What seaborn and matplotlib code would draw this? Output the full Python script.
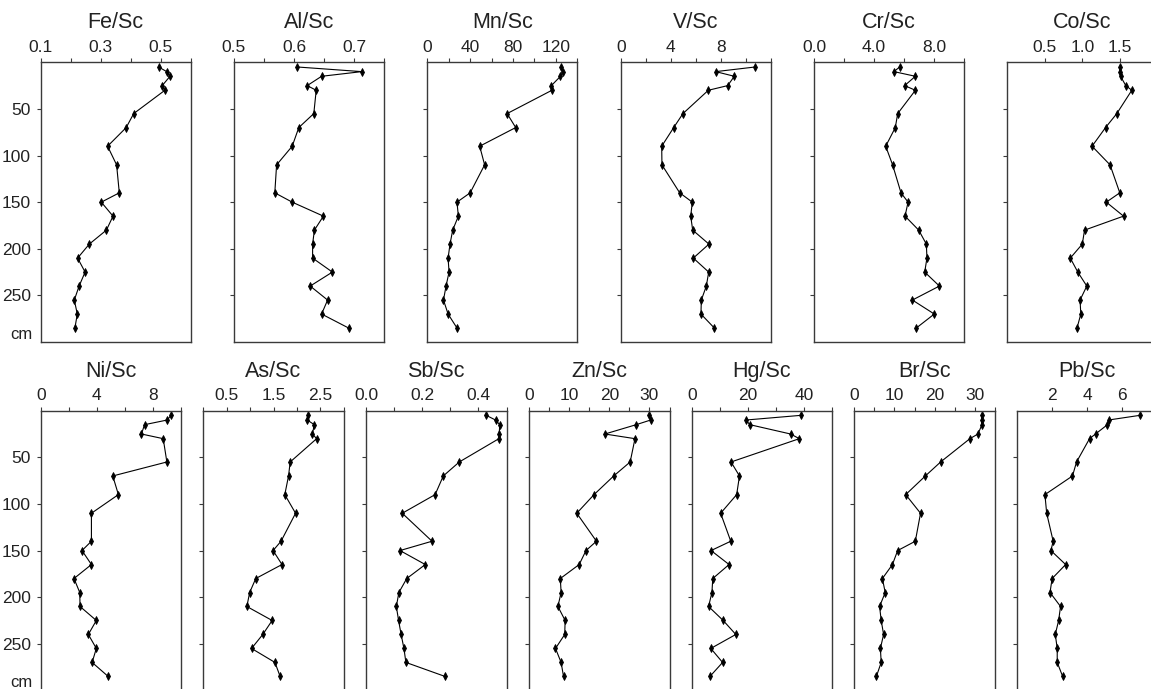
import matplotlib
matplotlib.use("Agg")
import matplotlib.pyplot as plt
import seaborn as sns
import pandas as pd

# profundidade das amostras (cm)
depth = [5, 10, 15, 25, 30, 55, 70, 90, 110, 140, 150, 165, 180, 195, 210, 225, 240, 255, 270, 285]

# razoes normalizadas pelo Sc
fe_sc = [0.493, 0.52, 0.531, 0.505, 0.514, 0.41, 0.385, 0.323, 0.353, 0.362,
         0.302, 0.341, 0.319, 0.262, 0.223, 0.248, 0.228, 0.212, 0.222, 0.214]
al_sc = [0.605, 0.713, 0.646, 0.622, 0.637, 0.633, 0.608, 0.597, 0.571, 0.568,
         0.597, 0.649, 0.634, 0.631, 0.631, 0.664, 0.627, 0.656, 0.646, 0.691]
mn_sc = [125, 126.5, 124.3, 115.8, 116.3, 74.5, 82.5, 48.9, 53.5, 40,
         27.7, 29, 23.7, 21.2, 19.4, 20.3, 17.5, 15.1, 19.4, 27.7]
v_sc = [10.77, 7.6, 9.09, 8.56, 7.01, 4.98, 4.24, 3.28, 3.3, 4.72,
        5.73, 5.6, 5.76, 7.06, 5.81, 7.04, 6.85, 6.45, 6.42, 7.49]
cr_sc = [5.71, 5.33, 6.76, 6.04, 6.76, 5.58, 5.42, 4.78, 5.24, 5.8,
         6.27, 6.07, 6.98, 7.49, 7.53, 7.38, 8.36, 6.56, 8.02, 6.82]
co_sc = [1.50, 1.50, 1.51, 1.58, 1.66, 1.46, 1.31, 1.13, 1.37, 1.50,
         1.32, 1.55, 1.03, 1.00, 0.84, 0.94, 1.06, 0.97, 0.98, 0.93]
ni_sc = [9.27, 9.0, 7.39, 7.17, 8.72, 8.98, 5.13, 5.53, 3.61, 3.61,
         2.94, 3.61, 2.37, 2.78, 2.8, 3.96, 3.39, 3.96, 3.66, 4.8]
as_sc = [2.23, 2.22, 2.37, 2.33, 2.42, 1.855, 1.82, 1.74, 1.97, 1.66,
         1.49, 1.68, 1.12, 0.99, 0.93, 1.47, 1.27, 1.03, 1.53, 1.64]
sb_sc = [0.428, 0.461, 0.476, 0.474, 0.473, 0.332, 0.275, 0.246, 0.129, 0.235,
         0.121, 0.211, 0.145, 0.117, 0.108, 0.116, 0.125, 0.135, 0.142, 0.281]
zn_sc = [29.9, 30.3, 26.7, 18.9, 26.4, 25.2, 21.1, 16.2, 11.9, 16.8,
         14.2, 12.5, 7.8, 8.0, 7.2, 9.0, 8.9, 6.6, 8.0, 8.6]
hg_sc = [38.8, 19.3, 20.7, 35.2, 38.3, 14.0, 17.0, 16.0, 10.3, 13.9,
         6.9, 13.3, 7.5, 7.2, 6.0, 11.2, 15.7, 6.8, 11.0, 6.5]
br_sc = [31.7, 31.7, 31.8, 30.8, 28.8, 21.5, 17.7, 12.8, 16.5, 15.2,
         10.8, 9.5, 7.0, 7.7, 6.3, 6.7, 7.3, 6.5, 6.7, 5.5]
pb_sc = [6.99, 5.21, 5.15, 4.47, 4.13, 3.39, 3.16, 1.59, 1.69, 2.06,
         1.93, 2.77, 2.0, 1.88, 2.48, 2.37, 2.18, 2.29, 2.29, 2.6]

# titulos e eixos
top_names = ['Fe/Sc', 'Al/Sc', 'Mn/Sc', 'V/Sc', 'Cr/Sc', 'Co/Sc']
bottom_names = ['Ni/Sc', 'As/Sc', 'Sb/Sc', 'Zn/Sc', 'Hg/Sc', 'Br/Sc', 'Pb/Sc']
top_series = [fe_sc, al_sc, mn_sc, v_sc, cr_sc, co_sc]
bottom_series = [ni_sc, as_sc, sb_sc, zn_sc, hg_sc, br_sc, pb_sc]

x_ranges = {
    'Fe/Sc': (0.1, 0.6), 'Al/Sc': (0.5, 0.75), 'Mn/Sc': (0, 140), 'V/Sc': (0, 12),
    'Cr/Sc': (0, 10), 'Co/Sc': (0, 2), 'Ni/Sc': (0, 10), 'As/Sc': (0, 3),
    'Sb/Sc': (0, 0.5), 'Zn/Sc': (0, 35), 'Hg/Sc': (0, 50), 'Br/Sc': (0, 35), 'Pb/Sc': (0, 8),
}
x_ticks = {
    'Fe/Sc': [0.1, 0.2, 0.3, 0.4, 0.5, 0.6], 'Al/Sc': [0.5, 0.55, 0.6, 0.65, 0.7, 0.75],
    'Mn/Sc': [0, 20, 40, 60, 80, 100, 120, 140], 'V/Sc': [0, 2, 4, 6, 8, 10, 12],
    'Cr/Sc': [0, 2, 4, 6, 8, 10], 'Co/Sc': [0.5, 1.0, 1.5],
    'Ni/Sc': [0, 2, 4, 6, 8, 10], 'As/Sc': [0, 0.5, 1.0, 1.5, 2.0, 2.5, 3.0],
    'Sb/Sc': [0, 0.1, 0.2, 0.3, 0.4, 0.5], 'Zn/Sc': [0, 5, 10, 15, 20, 25, 30, 35],
    'Hg/Sc': [0, 10, 20, 30, 40, 50], 'Br/Sc': [0, 5, 10, 15, 20, 25, 30, 35],
    'Pb/Sc': [2, 4, 6],
}
x_labels = {
    'Fe/Sc': ['0.1', '', '0.3', '', '0.5', ''], 'Al/Sc': ['0.5', '', '0.6', '', '0.7', ''],
    'Mn/Sc': ['0', '', '40', '', '80', '', '120', ''], 'V/Sc': ['0', '', '4', '', '8', '', ''],
    'Cr/Sc': ['0.0', '', '4.0', '', '8.0', ''], 'Co/Sc': ['0.5', '1.0', '1.5'],
    'Ni/Sc': ['0', '', '4', '', '8', ''], 'As/Sc': ['', '0.5', '', '1.5', '', '2.5', ''],
    'Sb/Sc': ['0.0', '', '0.2', '', '0.4', ''], 'Zn/Sc': ['0', '', '10', '', '20', '', '30', ''],
    'Hg/Sc': ['0', '', '20', '', '40', ''], 'Br/Sc': ['0', '', '10', '', '20', '', '30', ''],
    'Pb/Sc': ['2', '4', '6'],
}
depth_ticks = [50, 100, 150, 200, 250]

sns.set_theme(style='ticks')
plt.rcParams['font.family'] = ['Liberation Sans', 'DejaVu Sans']

W, H = 1151, 689
fig = plt.figure(figsize=(W / 100, H / 100), dpi=100)
edge = '#3a3a3a'


def make_panel(left, top, width, name, values, first):
    height = 279.7
    ax = fig.add_axes([left / W, (H - top - height) / H, width / W, height / H])
    df = pd.DataFrame({'valor': values, 'prof': depth})
    sns.lineplot(data=df, x='valor', y='prof', sort=False, estimator=None,
                 color='black', linewidth=0.8, marker='d', markersize=4.2,
                 markeredgecolor='black', markeredgewidth=0.6, ax=ax)
    ax.set_xlim(*x_ranges[name])
    ax.set_ylim(300, 0)
    ax.xaxis.tick_top()
    ax.set_xticks(x_ticks[name])
    ax.set_xticklabels(x_labels[name])
    ax.set_yticks(depth_ticks)
    if first:
        ax.set_yticklabels([str(t) for t in depth_ticks])
        ax.text(-0.055, 292, 'cm', transform=ax.get_yaxis_transform(),
                ha='right', va='center', fontsize=12, color='#222222')
    else:
        ax.set_yticklabels([])
    ax.set_xlabel('')
    ax.set_ylabel('')
    ax.tick_params(axis='both', length=3, width=0.8, color=edge, labelsize=12.5,
                   labelcolor='#222222', pad=2.5)
    ax.tick_params(axis='y', pad=4)
    for s in ax.spines.values():
        s.set_visible(True)
        s.set_color(edge)
        s.set_linewidth(1.0)
    ax.annotate(name, xy=(0.5, 1.0), xycoords='axes fraction', xytext=(0, 28.5),
                textcoords='offset points', ha='center', va='center',
                fontsize=15.5, color='#222222')
    return ax


top_lefts = [40.7, 234, 427.3, 620.7, 814, 1007.3]
for i, (name, vals) in enumerate(zip(top_names, top_series)):
    make_panel(top_lefts[i], 62.3, 150, name, vals, i == 0)

bottom_lefts = [40.7, 203.3, 366, 529, 691.7, 854.3, 1017]
for i, (name, vals) in enumerate(zip(bottom_names, bottom_series)):
    make_panel(bottom_lefts[i], 410.7, 140.5, name, vals, i == 0)

fig.savefig('out.png', dpi=100)
